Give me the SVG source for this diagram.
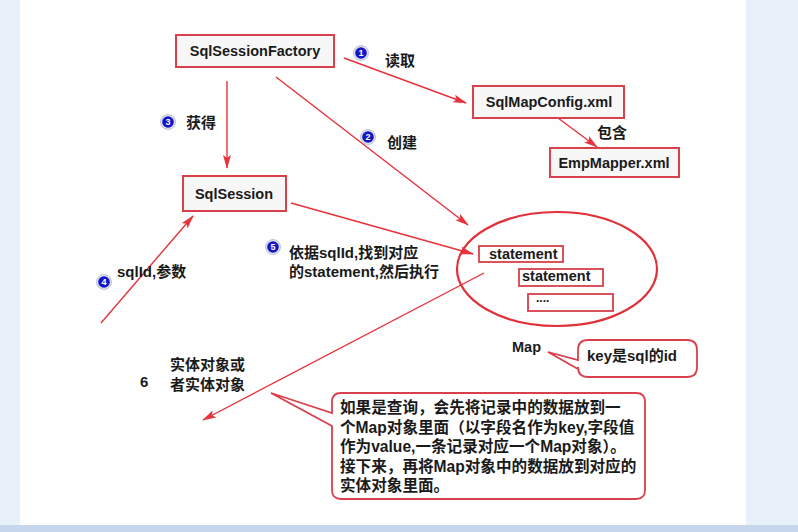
<svg xmlns="http://www.w3.org/2000/svg" width="798" height="532" viewBox="0 0 798 532">
<defs>
<marker id="ah" markerUnits="userSpaceOnUse" markerWidth="14" markerHeight="8" refX="13" refY="4" orient="auto">
<path d="M0,0 L14,4 L0,8 L3,4 z" fill="#e8313a"/>
</marker>
<style>
.box{fill:#f7f7f7;stroke:#d8404c;stroke-width:2}
.sbox{fill:#ffffff;stroke:#d8404c;stroke-width:1.8}
.lbl{font-family:"Liberation Sans",Arial,sans-serif;font-weight:bold;font-size:14.5px;fill:#1a1a1a}
.cn{font-family:"Liberation Sans","Noto Sans CJK SC",sans-serif;font-weight:bold;font-size:15px;fill:#1a1a1a}
.big{font-family:"Liberation Sans","Noto Sans CJK SC",sans-serif;font-weight:bold;font-size:15.6px;fill:#1a1a1a}
.con{stroke:#e8313a;stroke-width:1.4;fill:none;marker-end:url(#ah)}
.bo{fill:#dfe1ee;stroke:#b4b8cc;stroke-width:0.8}
.bi{fill:#1414c8}
.bn{font-family:"Liberation Sans",Arial,sans-serif;font-weight:bold;font-size:9px;fill:#ffffff;text-anchor:middle}
</style>
</defs>
<rect x="0" y="0" width="798" height="532" fill="#e8f0fa"/>
<rect x="20" y="0" width="726" height="525" fill="#fefefe"/>
<rect x="0" y="525" width="798" height="7" fill="#c6d6ec"/>

<g id="connectors">
<line class="con" x1="344" y1="58" x2="466" y2="103"/>
<line class="con" x1="276" y1="77" x2="468" y2="225"/>
<line class="con" x1="227" y1="81" x2="227" y2="168"/>
<line class="con" x1="101" y1="323" x2="193" y2="216"/>
<line class="con" x1="291" y1="203" x2="473" y2="254"/>
<line class="con" x1="484" y1="273" x2="203" y2="420"/>
<line class="con" x1="558" y1="118" x2="597" y2="147"/>
</g>

<g id="SqlSessionFactory">
<rect class="box" x="176" y="35" width="158" height="32"/>
<text class="lbl" x="255" y="56" text-anchor="middle">SqlSessionFactory</text>
</g>
<g id="SqlMapConfig">
<rect class="box" x="473" y="86" width="151" height="32"/>
<text class="lbl" x="549" y="107" text-anchor="middle">SqlMapConfig.xml</text>
</g>
<g id="EmpMapper">
<rect class="box" x="550" y="148" width="129" height="29"/>
<text class="lbl" x="614" y="168" text-anchor="middle">EmpMapper.xml</text>
</g>
<g id="SqlSession">
<rect class="box" x="183" y="176" width="103" height="35"/>
<text class="lbl" x="234" y="199" text-anchor="middle">SqlSession</text>
</g>

<g id="statements">
<ellipse cx="557" cy="269" rx="100" ry="57" fill="none" stroke="#e0303a" stroke-width="2.2"/>
<rect class="sbox" x="479" y="246" width="84" height="16"/>
<text class="lbl" x="489" y="259">statement</text>
<rect class="sbox" x="519" y="269" width="84" height="17"/>
<text class="lbl" x="522" y="281">statement</text>
<rect class="sbox" x="528" y="294" width="85" height="17"/>
<text class="lbl" x="536" y="302" style="font-size:12px">....</text>
</g>

<g id="badges">
<circle class="bo" cx="361" cy="53" r="7.5"/><circle class="bi" cx="361" cy="53" r="5.8"/><text class="bn" x="361" y="56">1</text>
<circle class="bo" cx="368" cy="137" r="7.5"/><circle class="bi" cx="368" cy="137" r="5.8"/><text class="bn" x="368" y="140">2</text>
<circle class="bo" cx="168" cy="122" r="7.5"/><circle class="bi" cx="168" cy="122" r="5.8"/><text class="bn" x="168" y="125">3</text>
<circle class="bo" cx="104" cy="282" r="7.5"/><circle class="bi" cx="104" cy="282" r="5.8"/><text class="bn" x="104" y="285">4</text>
<circle class="bo" cx="273" cy="247" r="7.5"/><circle class="bi" cx="273" cy="247" r="5.8"/><text class="bn" x="273" y="250">5</text>
</g>

<g id="labels">
<text class="cn" x="385" y="66">读取</text>
<text class="cn" x="387" y="148">创建</text>
<text class="cn" x="186" y="128">获得</text>
<text class="cn" x="597" y="138">包含</text>
<text class="cn" x="117" y="277">sqlId,参数</text>
<text class="cn" x="289" y="258">依据sqlId,找到对应</text>
<text class="cn" x="289" y="277">的statement,然后执行</text>
<text class="cn" x="140" y="387">6</text>
<text class="cn" x="170" y="370">实体对象或</text>
<text class="cn" x="170" y="390">者实体对象</text>
<text class="lbl" x="512" y="352">Map</text>
</g>

<g id="keyNote">
<path d="M588,340 H687 Q697,340 697,350 V367 Q697,377 687,377 H588 Q578,377 578,367 V369 L548,352 L578,360 V350 Q578,340 588,340 Z" fill="#ffffff" stroke="#d8404c" stroke-width="1.8"/>
<text class="cn" x="587" y="361">key是sql的id</text>
</g>

<g id="mapNote">
<path d="M341,393 H636 Q645,393 645,402 V490 Q645,499 636,499 H341 Q332,499 332,490 V426 L271,393 L332,413 V402 Q332,393 341,393 Z" fill="#ffffff" stroke="#d8404c" stroke-width="1.8"/>
<text class="big" x="340" y="413">如果是查询，会先将记录中的数据放到一</text>
<text class="big" x="340" y="433">个Map对象里面（以字段名作为key,字段值</text>
<text class="big" x="340" y="452">作为value,一条记录对应一个Map对象）。</text>
<text class="big" x="340" y="472">接下来，再将Map对象中的数据放到对应的</text>
<text class="big" x="340" y="491">实体对象里面。</text>
</g>
</svg>
